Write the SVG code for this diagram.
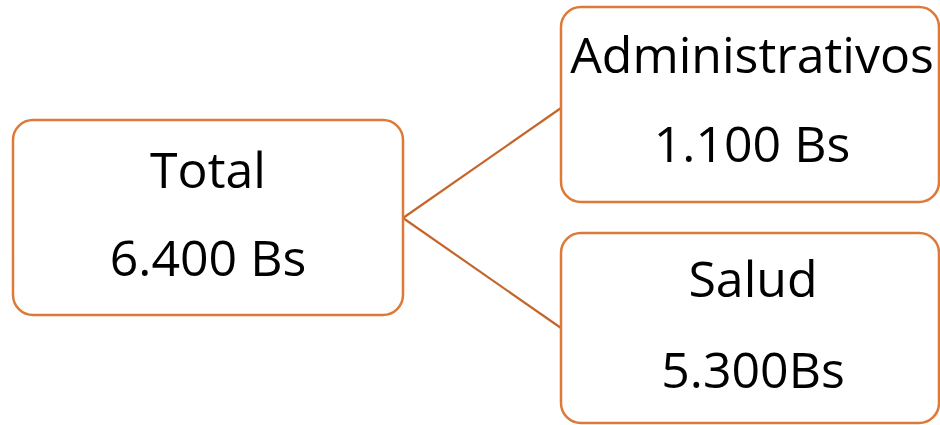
<svg xmlns="http://www.w3.org/2000/svg" width="940" height="425" viewBox="0 0 940 425">
<style>
.box{fill:#FFFFFF;stroke:#DD7A38;stroke-width:2.5}
.lbl{font-family:"Open Sans","Liberation Sans",sans-serif;font-size:50px;fill:#000000;text-anchor:middle}
.conn{stroke:#C4662A;stroke-width:2.2;fill:none}
</style>
<rect width="940" height="425" fill="#FFFFFF"/>
<g id="connectors">
<line class="conn" x1="403" y1="218" x2="561" y2="108"/>
<line class="conn" x1="403" y1="218" x2="561" y2="328"/>
</g>
<g id="node-total">
<rect class="box" x="13" y="120" width="390" height="195" rx="20"/>
<text class="lbl" x="208" y="188">Total</text>
<text class="lbl" x="208" y="276">6.400 Bs</text>
</g>
<g id="node-admin">
<rect class="box" x="561" y="7" width="378" height="195" rx="20"/>
<text class="lbl" x="752" y="73">Administrativos</text>
<text class="lbl" x="752" y="162">1.100 Bs</text>
</g>
<g id="node-salud">
<rect class="box" x="561" y="233" width="378" height="190" rx="20"/>
<text class="lbl" x="753" y="297">Salud</text>
<text class="lbl" x="753" y="388">5.300Bs</text>
</g>
</svg>
